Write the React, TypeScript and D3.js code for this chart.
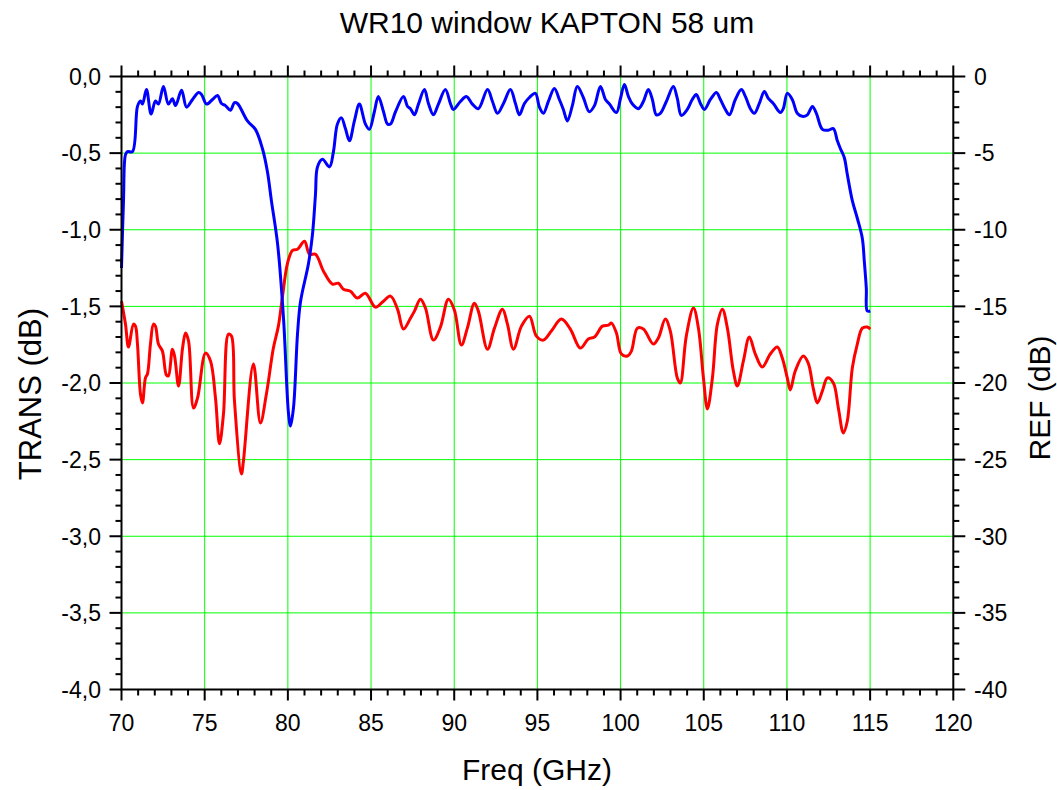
import React from "react";
import * as d3 from "d3";

const freqT = [70.0,70.12,70.24,70.36,70.66,70.96,71.14,71.26,71.5,71.78,72.04,72.22,72.52,72.82,73.06,73.25,73.61,73.91,74.27,74.63,74.81,75.11,75.47,75.77,76.01,76.25,76.55,76.79,76.97,77.57,78.05,78.47,78.77,79.01,79.38,79.74,80.04,80.16,80.34,80.58,80.76,81.24,81.48,81.66,81.78,82.08,82.5,82.74,82.98,83.22,83.46,83.7,84.0,84.3,84.66,84.9,85.2,85.44,85.75,85.99,86.17,86.47,86.95,87.19,87.37,87.61,87.85,88.21,88.45,88.75,89.05,89.47,89.77,89.95,90.37,90.73,91.09,91.45,92.0,92.3,92.6,92.96,93.38,93.68,93.92,94.22,94.52,94.88,95.12,95.36,95.66,96.02,96.32,96.56,96.8,97.1,97.4,97.76,98.12,98.43,98.79,99.09,99.33,99.75,99.99,100.23,100.47,100.71,101.07,101.37,101.67,101.91,102.15,102.39,102.75,103.17,103.41,103.65,104.01,104.31,104.55,104.8,105.04,105.4,105.76,106.0,106.3,106.54,106.9,107.26,107.5,107.8,108.04,108.34,108.64,108.88,109.18,109.6,109.78,110.02,110.32,110.62,110.92,111.23,111.53,111.77,112.13,112.49,112.79,113.03,113.21,113.45,113.63,113.93,114.23,114.53,114.65,114.77,114.83,115.01];
const trans = [-1.25,-0.81,-0.51,-0.49,-0.49,-0.195,-0.16,-0.18,-0.085,-0.245,-0.16,-0.18,-0.065,-0.18,-0.145,-0.19,-0.09,-0.2,-0.15,-0.105,-0.117,-0.18,-0.15,-0.124,-0.176,-0.19,-0.22,-0.17,-0.176,-0.29,-0.345,-0.47,-0.62,-0.81,-1.09,-1.58,-2.2,-2.28,-2.16,-1.68,-1.47,-1.22,-1.03,-0.77,-0.59,-0.54,-0.59,-0.49,-0.31,-0.27,-0.34,-0.42,-0.29,-0.18,-0.31,-0.345,-0.23,-0.13,-0.23,-0.31,-0.31,-0.23,-0.13,-0.195,-0.21,-0.25,-0.18,-0.085,-0.176,-0.25,-0.18,-0.085,-0.176,-0.215,-0.163,-0.13,-0.18,-0.21,-0.085,-0.163,-0.24,-0.176,-0.085,-0.176,-0.25,-0.176,-0.137,-0.11,-0.2,-0.24,-0.163,-0.078,-0.15,-0.215,-0.29,-0.19,-0.065,-0.137,-0.23,-0.19,-0.065,-0.15,-0.18,-0.235,-0.145,-0.052,-0.13,-0.18,-0.21,-0.163,-0.085,-0.15,-0.25,-0.24,-0.163,-0.065,-0.143,-0.254,-0.215,-0.15,-0.117,-0.176,-0.215,-0.15,-0.104,-0.15,-0.215,-0.25,-0.15,-0.085,-0.13,-0.21,-0.24,-0.176,-0.098,-0.143,-0.176,-0.235,-0.21,-0.11,-0.15,-0.24,-0.26,-0.25,-0.195,-0.24,-0.345,-0.35,-0.34,-0.42,-0.47,-0.53,-0.64,-0.81,-0.925,-1.055,-1.205,-1.38,-1.53,-1.53];

const freqR = [70.0,70.24,70.42,70.72,70.84,70.96,71.14,71.26,71.44,71.56,71.74,71.92,72.04,72.22,72.46,72.7,72.82,73.06,73.19,73.43,73.67,73.85,74.03,74.33,74.57,75.05,75.35,75.65,75.89,76.13,76.43,76.61,76.79,77.21,77.33,77.93,78.35,78.71,79.13,79.43,79.68,79.98,80.28,80.58,81.0,81.3,81.66,82.14,82.68,83.04,83.34,83.76,84.18,84.66,85.26,85.69,86.17,86.59,86.95,87.37,87.61,87.97,88.27,88.75,89.17,89.65,90.01,90.43,90.79,91.21,91.45,92.0,92.42,92.9,93.2,93.56,94.04,94.52,94.94,95.36,95.84,96.44,96.98,97.58,98.06,98.43,98.91,99.27,99.45,99.75,100.05,100.41,100.65,101.01,101.37,101.97,102.27,102.69,102.99,103.41,103.59,103.95,104.38,104.68,104.98,105.22,105.52,105.82,106.12,106.42,106.78,107.02,107.38,107.74,108.1,108.52,109.0,109.42,109.72,110.02,110.2,110.5,110.98,111.28,111.59,111.83,112.13,112.43,112.79,113.09,113.39,113.63,113.93,114.23,114.53,114.83,115.01];
const refl = [-14.66,-16.16,-17.65,-16.16,-16.29,-17.46,-20.72,-21.3,-19.67,-19.41,-17.46,-16.16,-16.29,-17.46,-17.92,-19.48,-19.54,-17.79,-18.24,-20.2,-17.72,-16.74,-17.26,-21.63,-20.98,-18.05,-18.57,-20.98,-23.97,-22.02,-16.81,-16.94,-21.17,-25.93,-25.08,-18.76,-22.61,-20.72,-17.72,-16.29,-14.33,-12.18,-11.34,-11.27,-10.75,-11.6,-11.6,-12.7,-13.55,-13.49,-13.88,-14.01,-14.46,-14.14,-15.05,-14.72,-14.33,-15.18,-16.48,-15.77,-15.31,-14.53,-15.11,-17.2,-16.35,-14.53,-15.24,-17.52,-16.42,-14.79,-15.31,-17.79,-16.42,-15.18,-16.16,-17.79,-16.29,-15.64,-16.94,-17.2,-16.61,-15.83,-16.48,-17.72,-17.13,-17.0,-16.29,-16.22,-16.09,-16.74,-18.11,-18.24,-17.92,-16.42,-16.48,-17.46,-17.07,-15.83,-16.61,-19.67,-20.0,-16.94,-15.11,-16.42,-19.67,-21.69,-19.67,-16.16,-15.18,-16.42,-19.22,-20.2,-18.57,-17.0,-18.11,-18.96,-18.11,-17.65,-18.37,-19.67,-20.46,-19.22,-18.24,-18.7,-20.39,-21.3,-20.52,-19.67,-20.0,-21.63,-23.26,-22.48,-19.02,-17.46,-16.42,-16.35,-16.48];

const xTicks = [70, 75, 80, 85, 90, 95, 100, 105, 110, 115, 120];
const leftTicks = [0, -0.5, -1, -1.5, -2, -2.5, -3, -3.5, -4];
const rightTicks = [0, -5, -10, -15, -20, -25, -30, -35, -40];

const W = 1057, H = 790;
const L = 121.5, R = 953.3, T = 76.5, B = 689.5;
const FONT = "'Liberation Sans', Arial, sans-serif";

export default function App() {
  const x = d3.scaleLinear().domain([70, 120]).range([L, R]);
  const yL = d3.scaleLinear().domain([-4, 0]).range([B, T]);
  const yR = d3.scaleLinear().domain([-40, 0]).range([B, T]);

  const blueLine = d3.line<number>()
    .x((_, i) => x(freqT[i]))
    .y((d) => yL(d))
    .curve(d3.curveCatmullRom.alpha(0.5));
  const redLine = d3.line<number>()
    .x((_, i) => x(freqR[i]))
    .y((d) => yR(d))
    .curve(d3.curveCatmullRom.alpha(0.5));

  const xMinor = d3.range(70, 121, 1).filter((v) => v % 5 !== 0);
  const yMinor = d3.range(0, 41, 1).map((v) => -v / 10).filter((_, i) => i % 5 !== 0);
  const fmtL = (v: number) => v.toFixed(1).replace(".", ",").replace("-0,0", "0,0");

  return (
    <svg width={W} height={H} style={{ position: "absolute", left: 0, top: 0, background: "#fff" }}>
      <rect x={0} y={0} width={W} height={H} fill="#fff" />
      <g stroke="#00ff00" strokeWidth={1}>
        {xTicks.slice(1, -1).map((t) => (
          <line key={"gx" + t} x1={x(t)} x2={x(t)} y1={T} y2={B} />
        ))}
        {leftTicks.slice(1, -1).map((t) => (
          <line key={"gy" + t} x1={L} x2={R} y1={yL(t)} y2={yL(t)} />
        ))}
      </g>
      <path d={redLine(refl) || ""} fill="none" stroke="#ff0000" strokeWidth={3} strokeLinejoin="round" />
      <path d={blueLine(trans) || ""} fill="none" stroke="#0000ff" strokeWidth={3} strokeLinejoin="round" />
      <rect x={L} y={T} width={R - L} height={B - T} fill="none" stroke="#000" strokeWidth={2} />
      <g stroke="#000" strokeWidth={2}>
        {xTicks.map((t) => (
          <g key={"xt" + t}>
            <line x1={x(t)} x2={x(t)} y1={B} y2={B + 11} />
            <line x1={x(t)} x2={x(t)} y1={T} y2={T - 11} />
          </g>
        ))}
        {xMinor.map((t) => (
          <g key={"xm" + t}>
            <line x1={x(t)} x2={x(t)} y1={B} y2={B + 6} />
            <line x1={x(t)} x2={x(t)} y1={T} y2={T - 6} />
          </g>
        ))}
        {leftTicks.map((t) => (
          <g key={"yt" + t}>
            <line x1={L} x2={L - 12} y1={yL(t)} y2={yL(t)} />
            <line x1={R} x2={R + 12} y1={yL(t)} y2={yL(t)} />
          </g>
        ))}
        {yMinor.map((t) => (
          <g key={"ym" + t}>
            <line x1={L} x2={L - 6} y1={yL(t)} y2={yL(t)} />
            <line x1={R} x2={R + 6} y1={yL(t)} y2={yL(t)} />
          </g>
        ))}
      </g>
      <g fontFamily={FONT} fontSize={23} fill="#000">
        {xTicks.map((t) => (
          <text key={"xl" + t} x={x(t)} y={731} textAnchor="middle">{t}</text>
        ))}
        {leftTicks.map((t) => (
          <text key={"ll" + t} x={101} y={yL(t)} dy="0.36em" textAnchor="end">{fmtL(t)}</text>
        ))}
        {rightTicks.map((t) => (
          <text key={"rl" + t} x={974} y={yR(t)} dy="0.36em" textAnchor="start">{t}</text>
        ))}
      </g>
      <text x={547} y={33} textAnchor="middle" fontFamily={FONT} fontSize={30}>WR10 window KAPTON 58 um</text>
      <text x={537} y={780} textAnchor="middle" fontFamily={FONT} fontSize={30}>Freq (GHz)</text>
      <text transform="translate(41,394) rotate(-90)" textAnchor="middle" fontFamily={FONT} fontSize={31}>TRANS (dB)</text>
      <text transform="translate(1050,398) rotate(-90)" textAnchor="middle" fontFamily={FONT} fontSize={30}>REF (dB)</text>
    </svg>
  );
}
